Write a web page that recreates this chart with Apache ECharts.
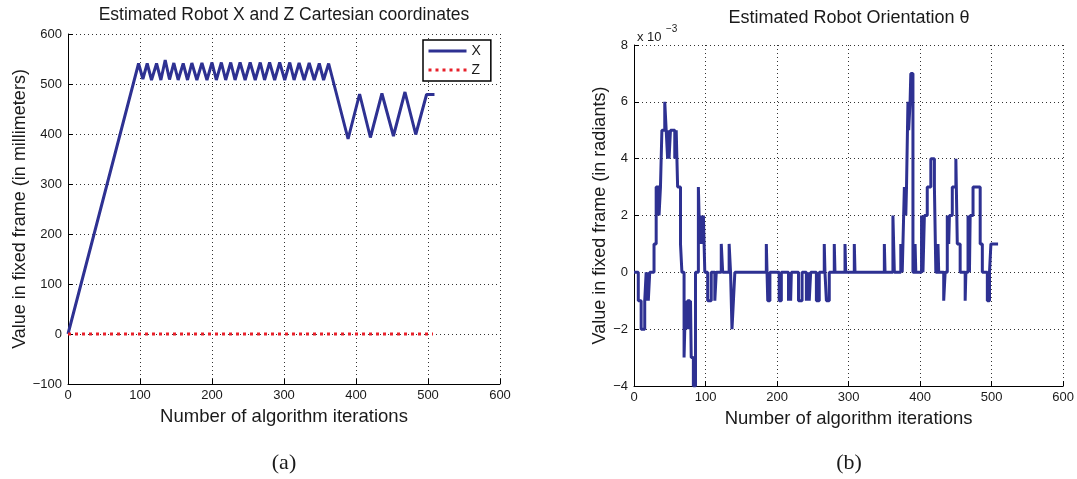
<!DOCTYPE html>
<html>
<head>
<meta charset="utf-8">
<script src="https://cdn.jsdelivr.net/npm/echarts@6/dist/echarts.min.js"></script>
<style>
  html, body { margin: 0; padding: 0; background: #fff; }
  #main { width: 1077px; height: 479px; }
</style>
</head>
<body>
<div id="main"></div>
<script>
var myChart = echarts.init(document.getElementById('main'));

// (a) X coordinate
var xIter = [0, 98, 104, 110, 116, 123, 129, 135, 141, 147, 153, 160, 166, 172, 179, 186, 193,
  200, 206, 213, 219, 226, 232, 239, 246, 253, 260, 267, 273, 280, 287, 294, 301, 308, 314,
  321, 328, 335, 342, 349, 355, 362, 389, 405, 420, 436, 452, 468, 483, 498, 509];
var xVal = [0, 541, 510, 541, 508, 541, 508, 548, 509, 542, 508, 541, 508, 542, 508, 542, 508,
  543, 508, 543, 508, 543, 508, 543, 508, 543, 508, 543, 508, 543, 508, 543, 508, 543, 508,
  542, 508, 542, 508, 541, 508, 541, 390, 480, 393, 481, 396, 484, 399, 479, 479];

// (a) Z coordinate
var zIter = [0, 507];
var zVal = [0, 0];

// (b) theta, in units of 1e-3 rad, value holds from each iteration on
var thetaIter = [0, 6, 10, 15, 17, 18, 19, 20, 22, 28, 31, 35, 37, 39, 43, 45, 47, 48, 49, 51,
  57, 59, 60, 61, 65, 67, 70, 72, 74, 75, 78, 79, 80, 83, 86, 90, 92, 93, 94, 95, 96, 97, 99,
  103, 108, 113, 115, 122, 124, 133, 135, 137, 139, 141, 185, 187, 190, 203, 206, 216, 218,
  219, 220, 230, 235, 241, 243, 245, 247, 255, 259, 266, 267, 269, 273, 280, 281, 295, 296,
  308, 309, 350, 351, 362, 364, 373, 375, 376, 378, 380, 381, 383, 384, 386, 387, 390, 393,
  394, 402, 404, 406, 410, 415, 420, 422, 425, 426, 433, 435, 438, 440, 441, 445, 450, 452,
  456, 463, 464, 467, 469, 470, 474, 484, 487, 494, 497, 499, 509];
var thetaVal = [0, -1, -2, -1, 0, -1, 0, -1, 0, 1, 3, 2, 3, 5, 6, 5, 4, 5, 4, 5,
  4, 5, 4, 3, 1, 0, -3, -1, -2, -1, -2, -1, -3, -4, 0, 3, 1, 2, 1, 2, 1, 2, 0,
  -1, 0, -1, 0, 1, 0, 1, 0, -2, -1, 0, 1, -1, 0, -1, 0, -1, 0,
  -1, 0, -1, 0, -1, 0, -1, 0, -1, 0, 1, 0, -1, 0, 1, 0, 1, 0,
  1, 0, 1, 0, 2, 0, 1, 0, 1, 3, 2, 3, 6, 5, 6, 7, 0, 1,
  0, 2, 0, 2, 3, 4, 3, 0, 1, 0, -1, 0, 2, 1, 2, 3, 4, 1,
  0, -1, 0, 2, 0, 2, 3, 1, 0, -1, 0, 1, 1];

var xTicks = [0, 600, 100];
var aYTicks = [-100, 600, 100];
var bYTicks = [-4, 8, 2];

function zip(a, b) {
  return a.map(function (v, i) { return [v, b[i]]; });
}

var FONT = 'Liberation Sans, Arial, Helvetica, sans-serif';
var SERIF = 'Liberation Serif, Times New Roman, serif';
var gridLine = { show: true, lineStyle: { color: '#333', type: [1, 3], width: 1 } };
function minus(v) { return String(v).replace('-', '\u2212'); }

function xAxis(idx) {
  return {
    type: 'value', gridIndex: idx, min: xTicks[0], max: xTicks[1], interval: xTicks[2],
    name: 'Number of algorithm iterations', nameLocation: 'middle', nameGap: 23,
    nameTextStyle: { fontFamily: FONT, fontSize: 18.5, color: '#1a1a1a' },
    axisLine: { onZero: false, lineStyle: { color: '#000', width: 1 } },
    axisTick: { inside: true, length: 5, lineStyle: { color: '#000' } },
    axisLabel: { fontFamily: FONT, fontSize: 13, color: '#1a1a1a', margin: 5, formatter: minus },
    splitLine: gridLine
  };
}
function yAxis(idx, t, name, gap) {
  return {
    type: 'value', gridIndex: idx, min: t[0], max: t[1], interval: t[2],
    name: name, nameLocation: 'middle', nameGap: gap,
    nameTextStyle: { fontFamily: FONT, fontSize: 18, color: '#1a1a1a' },
    axisLine: { show: true, onZero: false, lineStyle: { color: '#000', width: 1 } },
    axisTick: { show: true, inside: true, length: 5, lineStyle: { color: '#000' } },
    axisLabel: { fontFamily: FONT, fontSize: 13, color: '#1a1a1a', margin: 6, formatter: minus },
    splitLine: gridLine
  };
}

function label(text, x, y, size, family, align) {
  return { type: 'text', x: x, y: y, style: { text: text, fontFamily: family, fontSize: size,
    fill: '#1a1a1a', textAlign: align, textVerticalAlign: 'middle', align: align, verticalAlign: 'middle' } };
}

var option = {
  backgroundColor: '#fff',
  animation: false,
  grid: [
    { left: 68, right: 577, top: 34, bottom: 95 },
    { left: 634, right: 12, top: 45, bottom: 93 }
  ],
  xAxis: [xAxis(0), xAxis(1)],
  yAxis: [
    yAxis(0, aYTicks, 'Value in fixed frame (in millimeters)', 37),
    yAxis(1, bYTicks, 'Value in fixed frame (in radiants)', 20)
  ],
  legend: {
    data: ['X', 'Z'],
    orient: 'vertical',
    left: 423, top: 40,
    itemWidth: 38, itemHeight: 12, itemGap: 5,
    padding: [4, 10, 4, 4],
    borderColor: '#000', borderWidth: 1.5,
    backgroundColor: '#fff',
    itemStyle: { opacity: 0 },
    lineStyle: { width: 3 },
    textStyle: { fontFamily: FONT, fontSize: 14, color: '#1a1a1a' }
  },
  series: [
    {
      name: 'X', type: 'line', xAxisIndex: 0, yAxisIndex: 0,
      data: zip(xIter, xVal), symbol: 'none',
      lineStyle: { color: '#2e3192', width: 3 }, itemStyle: { color: '#2e3192' }
    },
    {
      name: 'Z', type: 'line', xAxisIndex: 0, yAxisIndex: 0,
      data: zip(zIter, zVal), symbol: 'none',
      lineStyle: { color: '#e8202a', width: 3, type: [3, 4] }, itemStyle: { color: '#e8202a' }
    },
    {
      name: 'theta', type: 'line', xAxisIndex: 1, yAxisIndex: 1,
      data: zip(thetaIter, thetaVal), symbol: 'none', step: 'end',
      lineStyle: { color: '#2e3192', width: 3 }, itemStyle: { color: '#2e3192' }
    }
  ],
  graphic: [
    label('Estimated Robot X and Z Cartesian coordinates', 284, 15, 17.5, FONT, 'center'),
    label('Estimated Robot Orientation \u03b8', 849, 18, 18, FONT, 'center'),
    label('x 10', 637, 37, 13, FONT, 'left'),
    label('\u22123', 666, 29, 10, FONT, 'left'),
    label('(a)', 284, 463, 22, SERIF, 'center'),
    label('(b)', 849, 463, 22, SERIF, 'center')
  ]
};
myChart.setOption(option);
</script>
</body>
</html>
